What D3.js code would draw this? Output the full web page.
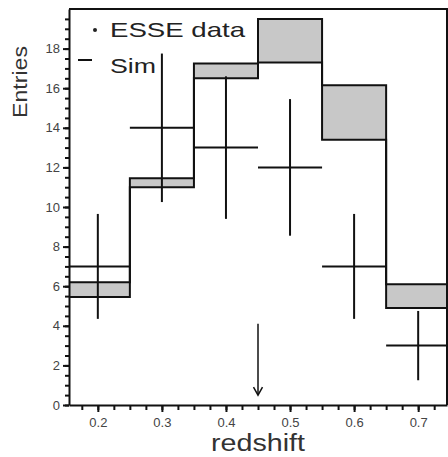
<!DOCTYPE html>
<html>
<head>
<meta charset="utf-8">
<script src="https://cdn.jsdelivr.net/npm/d3@7"></script>
<style>
  body { margin: 0; background: #fff; }
  svg { display: block; font-family: "Liberation Sans", Arial, sans-serif; }
</style>
</head>
<body>
<svg width="448" height="457"></svg>
<script>
// bin centres (redshift) and ESSE data
var binCenters = [0.2, 0.3, 0.4, 0.5, 0.6, 0.7];
var binWidth = 0.1;
var dataValues = [7, 14, 13, 12, 7, 3];
var dataErrors = [2.65, 3.75, 3.6, 3.45, 2.65, 1.75];
// simulation band (lower / upper edges)
var simLow  = [5.45, 11.0, 16.5, 17.3, 13.4, 4.9];
var simHigh = [6.2, 11.45, 17.25, 19.5, 16.15, 6.1];
var xTicks = [0.2, 0.3, 0.4, 0.5, 0.6, 0.7];
var yTicks = [0, 2, 4, 6, 8, 10, 12, 14, 16, 18];
var arrowX = 0.45, arrowTop = 4.1, arrowBottom = 0.5;

var svg = d3.select("svg");
var pLeft = 69, pRight = 447, pTop = 9, pBottom = 405;

var xScale = d3.scaleLinear().domain([0.155, 0.745]).range([pLeft, pRight]);
var yScale = d3.scaleLinear().domain([0, 20]).range([pBottom, pTop]);

svg.append("defs").append("clipPath").attr("id", "clip")
   .append("rect").attr("x", pLeft).attr("y", pTop)
   .attr("width", pRight - pLeft).attr("height", pBottom - pTop);

var plot = svg.append("g").attr("clip-path", "url(#clip)");

// step points for sim edges
function steps(vals) {
  var pts = [];
  binCenters.forEach(function(c, i) {
    pts.push([c - binWidth / 2, vals[i]]);
    pts.push([c + binWidth / 2, vals[i]]);
  });
  return pts;
}

// band fill
plot.selectAll("rect.band")
    .data(binCenters)
    .enter().append("rect")
    .attr("class", "band")
    .attr("x", function(d) { return xScale(d - binWidth / 2); })
    .attr("width", function(d) { return xScale(d + binWidth / 2) - xScale(d - binWidth / 2); })
    .attr("y", function(d, i) { return yScale(simHigh[i]); })
    .attr("height", function(d, i) { return yScale(simLow[i]) - yScale(simHigh[i]); })
    .attr("fill", "#c8c8c8");

var stepLine = d3.line()
    .x(function(d) { return xScale(d[0]); })
    .y(function(d) { return yScale(d[1]); });

[simLow, simHigh].forEach(function(vals) {
  plot.append("path")
      .attr("d", stepLine(steps(vals)))
      .attr("fill", "none")
      .attr("stroke", "#111")
      .attr("stroke-width", 2);
});

// data crosses
var crosses = plot.selectAll("g.cross").data(binCenters).enter().append("g");
crosses.append("line")
    .attr("x1", function(d) { return xScale(d - binWidth / 2); })
    .attr("x2", function(d) { return xScale(d + binWidth / 2); })
    .attr("y1", function(d, i) { return yScale(dataValues[i]); })
    .attr("y2", function(d, i) { return yScale(dataValues[i]); })
    .attr("stroke", "#111").attr("stroke-width", 2);
crosses.append("line")
    .attr("x1", function(d) { return xScale(d); })
    .attr("x2", function(d) { return xScale(d); })
    .attr("y1", function(d, i) { return yScale(dataValues[i] + dataErrors[i]); })
    .attr("y2", function(d, i) { return yScale(dataValues[i] - dataErrors[i]); })
    .attr("stroke", "#111").attr("stroke-width", 2);

// arrow
var ax = xScale(arrowX), ay = yScale(arrowBottom);
svg.append("line")
   .attr("x1", ax).attr("x2", ax)
   .attr("y1", yScale(arrowTop)).attr("y2", ay)
   .attr("stroke", "#111").attr("stroke-width", 1.5);
svg.append("path")
   .attr("d", "M" + (ax - 4.5) + "," + (ay - 8) + "L" + ax + "," + ay + "L" + (ax + 4.5) + "," + (ay - 8))
   .attr("fill", "none").attr("stroke", "#111").attr("stroke-width", 1.5);

// frame
svg.append("path")
   .attr("d", "M" + pLeft + "," + pTop + "H" + pRight + "V" + pBottom)
   .attr("fill", "none").attr("stroke", "#111").attr("stroke-width", 2);

// x axis with minor ticks
var xMinor = d3.range(0.175, 0.7451, 0.025);
svg.append("g")
   .attr("transform", "translate(0," + pBottom + ")")
   .call(d3.axisBottom(xScale).tickValues(xMinor).tickSize(5).tickFormat(""))
   .call(function(g) { g.select(".domain").remove(); })
   .selectAll("line").attr("stroke", "#111").attr("stroke-width", 2);
var xAxis = svg.append("g")
   .attr("transform", "translate(0," + pBottom + ")")
   .call(d3.axisBottom(xScale).tickValues(xTicks).tickSize(7).tickPadding(6)
         .tickFormat(d3.format(".1f")).tickSizeOuter(0));
xAxis.select(".domain").attr("stroke", "#111").attr("stroke-width", 2);
xAxis.selectAll("line").attr("stroke", "#111").attr("stroke-width", 2);
xAxis.selectAll("text").attr("font-size", 13).attr("fill", "#444")
     .attr("font-family", "Liberation Sans, Arial, sans-serif");

// y axis with minor ticks
var yMinor = d3.range(0, 19.51, 0.5);
svg.append("g")
   .attr("transform", "translate(" + pLeft + ",0)")
   .call(d3.axisLeft(yScale).tickValues(yMinor).tickSize(4).tickFormat(""))
   .call(function(g) { g.select(".domain").remove(); })
   .selectAll("line").attr("stroke", "#111").attr("stroke-width", 2);
var yAxis = svg.append("g")
   .attr("transform", "translate(" + pLeft + ",0)")
   .call(d3.axisLeft(yScale).tickValues(yTicks).tickSize(6).tickPadding(3).tickSizeOuter(0));
yAxis.select(".domain").attr("stroke", "#111").attr("stroke-width", 2);
yAxis.selectAll("line").attr("stroke", "#111").attr("stroke-width", 2);
yAxis.selectAll("text").attr("font-size", 13).attr("fill", "#444")
     .attr("font-family", "Liberation Sans, Arial, sans-serif");

// legend
svg.append("circle").attr("cx", 95).attr("cy", 30).attr("r", 2).attr("fill", "#222");
svg.append("text").attr("x", 110).attr("y", 37).attr("font-size", 21)
   .attr("textLength", 135).attr("lengthAdjust", "spacingAndGlyphs")
   .attr("fill", "#222").text("ESSE data");
svg.append("line").attr("x1", 78).attr("x2", 92).attr("y1", 60).attr("y2", 60)
   .attr("stroke", "#111").attr("stroke-width", 2);
svg.append("text").attr("x", 110).attr("y", 73).attr("font-size", 21)
   .attr("textLength", 46).attr("lengthAdjust", "spacingAndGlyphs")
   .attr("fill", "#222").text("Sim");

// axis titles
svg.append("text")
   .attr("transform", "translate(27,82) rotate(-90)")
   .attr("text-anchor", "middle").attr("font-size", 20)
   .attr("textLength", 72).attr("lengthAdjust", "spacingAndGlyphs")
   .attr("fill", "#333").text("Entries");
svg.append("text")
   .attr("x", 258).attr("y", 451)
   .attr("text-anchor", "middle").attr("font-size", 23)
   .attr("textLength", 94).attr("lengthAdjust", "spacingAndGlyphs")
   .attr("fill", "#333").text("redshift");
</script>
</body>
</html>
